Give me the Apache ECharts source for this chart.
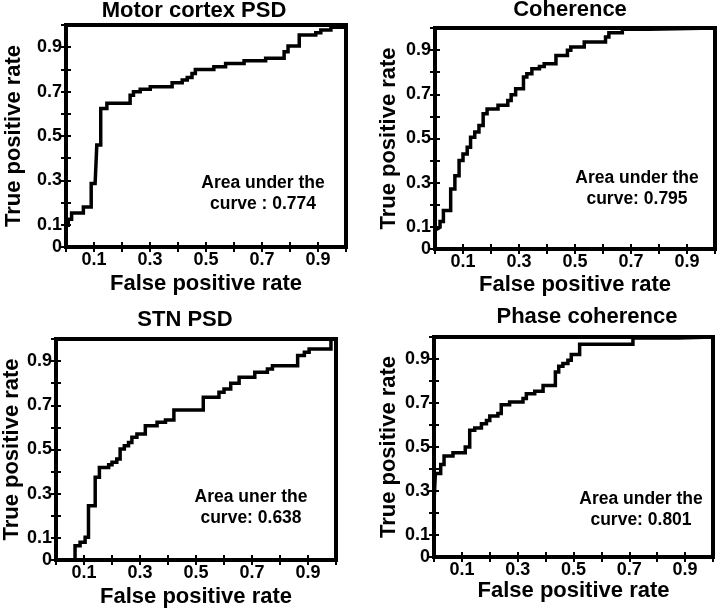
<!DOCTYPE html>
<html>
<head>
<meta charset="utf-8">
<script src="https://cdn.jsdelivr.net/npm/echarts@6/dist/echarts.min.js"></script>
<style>
html,body{margin:0;padding:0;background:#fff;}
#chart{width:720px;height:612px;}
</style>
</head>
<body>
<div id="chart"></div>
<script>
// ---- data ----
const titles = ['Motor cortex PSD', 'Coherence', 'STN PSD', 'Phase coherence'];
const aucTexts = ['Area under the\ncurve : 0.774', 'Area under the\ncurve: 0.795', 'Area uner the\ncurve: 0.638', 'Area under the\ncurve: 0.801'];
const xTickLabels = [0.1, 0.3, 0.5, 0.7, 0.9];
const yTickLabels = [0, 0.1, 0.3, 0.5, 0.7, 0.9];

const motorFpr = [0, 0, 0.008, 0.02, 0.062, 0.09, 0.104, 0.11, 0.124, 0.146, 0.229, 0.241, 0.265, 0.301, 0.379, 0.415, 0.433, 0.45, 0.462, 0.528, 0.57, 0.636, 0.713, 0.779, 0.793, 0.833, 0.892, 0.91, 0.946, 0.994, 1];
const motorTpr = [0, 0.098, 0.125, 0.153, 0.18, 0.286, 0.293, 0.459, 0.624, 0.647, 0.684, 0.699, 0.711, 0.722, 0.74, 0.752, 0.764, 0.782, 0.8, 0.812, 0.827, 0.839, 0.85, 0.88, 0.905, 0.955, 0.965, 0.977, 0.99, 1, 1];

const cohFpr = [0, 0, 0.008, 0.018, 0.03, 0.056, 0.071, 0.086, 0.1, 0.115, 0.127, 0.142, 0.157, 0.172, 0.186, 0.225, 0.26, 0.272, 0.288, 0.316, 0.328, 0.346, 0.373, 0.39, 0.432, 0.473, 0.485, 0.533, 0.609, 0.621, 0.669, 0.763, 1];
const cohTpr = [0, 0.09, 0.098, 0.125, 0.174, 0.272, 0.332, 0.4, 0.43, 0.46, 0.506, 0.529, 0.559, 0.612, 0.634, 0.65, 0.672, 0.698, 0.725, 0.778, 0.793, 0.816, 0.826, 0.838, 0.876, 0.899, 0.914, 0.937, 0.959, 0.979, 0.994, 1, 1];

const stnFpr = [0, 0.068, 0.086, 0.104, 0.116, 0.14, 0.155, 0.188, 0.2, 0.217, 0.229, 0.244, 0.259, 0.271, 0.289, 0.319, 0.361, 0.391, 0.421, 0.526, 0.582, 0.6, 0.624, 0.654, 0.71, 0.755, 0.773, 0.863, 0.887, 0.904, 0.982, 1];
const stnTpr = [0, 0.065, 0.08, 0.103, 0.246, 0.374, 0.419, 0.431, 0.442, 0.457, 0.502, 0.517, 0.532, 0.555, 0.57, 0.608, 0.623, 0.633, 0.679, 0.736, 0.759, 0.774, 0.8, 0.827, 0.849, 0.864, 0.879, 0.925, 0.94, 0.955, 1, 1];

const phaseFpr = [0, 0, 0.005, 0.024, 0.036, 0.068, 0.112, 0.128, 0.146, 0.17, 0.188, 0.2, 0.229, 0.241, 0.271, 0.319, 0.331, 0.361, 0.391, 0.435, 0.447, 0.462, 0.48, 0.492, 0.522, 0.713, 0.875, 1];
const phaseTpr = [0, 0.25, 0.38, 0.42, 0.459, 0.474, 0.5, 0.576, 0.586, 0.606, 0.621, 0.641, 0.652, 0.692, 0.705, 0.72, 0.742, 0.753, 0.78, 0.841, 0.867, 0.879, 0.894, 0.92, 0.967, 0.995, 1, 1];

const curves = [[motorFpr, motorTpr], [cohFpr, cohTpr], [stnFpr, stnTpr], [phaseFpr, phaseTpr]];

// ---- layout ----
const FONT = '"Liberation Sans", Arial, Helvetica, sans-serif';
const grids = [
  {left: 66, top: 25, width: 280, height: 222},
  {left: 435, top: 28, width: 280, height: 221},
  {left: 56, top: 339, width: 280, height: 221},
  {left: 434, top: 337, width: 279, height: 220}
];
const yNameGap = [41, 35, 31, 34];
const xNameGap = [26, 25, 26, 22];
const titlePos = [[194, 11], [570, 10], [185, 320], [587, 317]];
const aucPos = [[263, 183], [637, 178], [251, 497], [641, 499]];

function fmt(list) {
  return function (v) {
    for (const l of list) if (Math.abs(l - v) < 1e-6) return String(l);
    return '';
  };
}
const tickStyle = {show: true, inside: true, length: 5, lineStyle: {color: '#000', width: 2}};
const labelStyle = {color: '#000', fontFamily: FONT, fontWeight: 'bold', fontSize: 18};
const nameStyle = {color: '#000', fontFamily: FONT, fontWeight: 'bold', fontSize: 22};

const option = {
  animation: false,
  backgroundColor: '#fff',
  grid: [], xAxis: [], yAxis: [], series: [], graphic: []
};

grids.forEach(function (g, i) {
  option.grid.push(Object.assign({show: true, borderColor: '#000', borderWidth: 4, backgroundColor: '#fff'}, g));
  option.xAxis.push({
    type: 'value', gridIndex: i, position: 'bottom', min: 0, max: 1, interval: 0.1,
    axisLine: {show: false}, axisTick: tickStyle, splitLine: {show: false},
    axisLabel: Object.assign({formatter: fmt(xTickLabels), margin: 4, showMinLabel: true, showMaxLabel: true}, labelStyle),
    name: 'False positive rate', nameLocation: 'middle', nameGap: xNameGap[i], nameTextStyle: nameStyle
  });
  option.xAxis.push({
    type: 'value', gridIndex: i, position: 'top', min: 0, max: 1, interval: 0.1,
    axisLine: {show: false}, axisTick: tickStyle, splitLine: {show: false}, axisLabel: {show: false}
  });
  option.yAxis.push({
    type: 'value', gridIndex: i, position: 'left', min: 0, max: 1, interval: 0.1,
    axisLine: {show: false}, axisTick: tickStyle, splitLine: {show: false},
    axisLabel: Object.assign({formatter: fmt(yTickLabels), margin: 4, showMinLabel: true, showMaxLabel: true}, labelStyle),
    name: 'True positive rate', nameLocation: 'middle', nameGap: yNameGap[i], nameTextStyle: nameStyle
  });
  option.yAxis.push({
    type: 'value', gridIndex: i, position: 'right', min: 0, max: 1, interval: 0.1,
    axisLine: {show: false}, axisTick: tickStyle, splitLine: {show: false}, axisLabel: {show: false}
  });
  const fpr = curves[i][0], tpr = curves[i][1];
  option.series.push({
    type: 'line', xAxisIndex: 2 * i, yAxisIndex: 2 * i, step: 'end',
    data: fpr.map(function (x, k) { return [x, tpr[k]]; }),
    showSymbol: false, clip: false, silent: true,
    lineStyle: {color: '#000', width: 3.5, join: 'miter', cap: 'butt'}
  });
  option.graphic.push({
    type: 'text', x: titlePos[i][0], y: titlePos[i][1], z: 10,
    style: {text: titles[i], fill: '#000', font: 'bold 22px ' + FONT, textAlign: 'center', textVerticalAlign: 'middle'}
  });
  option.graphic.push({
    type: 'text', x: aucPos[i][0], y: aucPos[i][1] - 10, z: 10,
    style: {text: aucTexts[i], fill: '#000', font: 'bold 17.5px ' + FONT, textAlign: 'center', textVerticalAlign: 'top', lineHeight: 21}
  });
});

const chart = echarts.init(document.getElementById('chart'), null, {renderer: 'canvas'});
chart.setOption(option);
</script>
</body>
</html>
